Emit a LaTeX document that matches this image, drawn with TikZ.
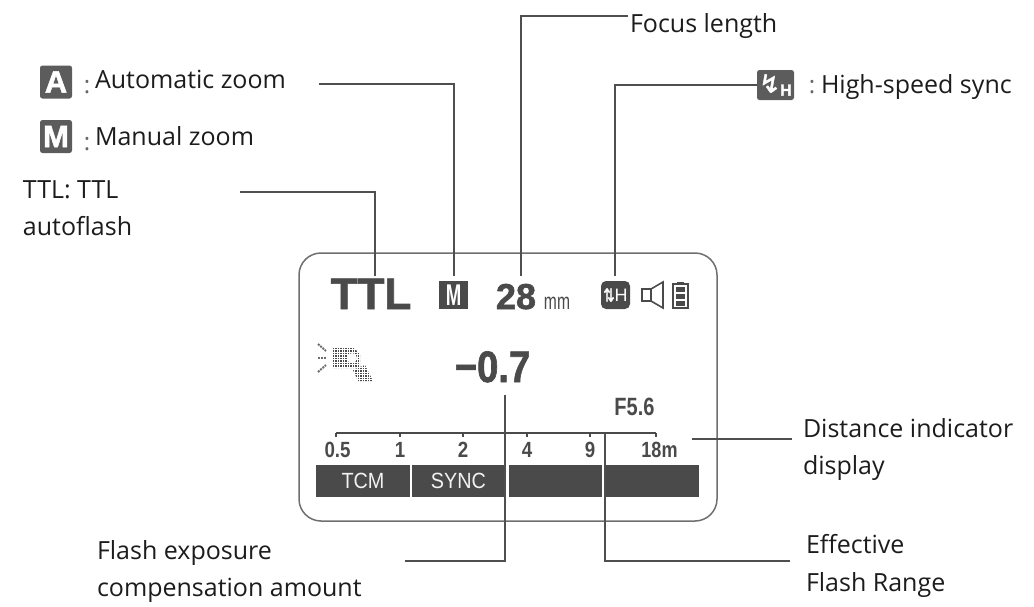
\documentclass[tikz,border=0pt]{standalone}
\usepackage{graphicx}
\usepackage{fontspec}
\setmainfont{Open Sans}
\newfontfamily\symfont{DejaVu Sans}
\newfontfamily\symheavy{DejaVu Sans}[FakeBold=2]
\newfontfamily\lcdfont{Liberation Sans}
\newfontfamily\lcdbold{Liberation Sans Bold}
\newfontfamily\lcdheavy{Liberation Sans Bold}[FakeBold=1.6]
\definecolor{lcd}{HTML}{4A4A4A}
\definecolor{leader}{HTML}{4F4F4F}
\definecolor{frameclr}{HTML}{6E6E6E}
\definecolor{labelclr}{HTML}{1C1C1C}
\newcommand{\narrow}[2]{\scalebox{#1}[1]{#2}}
\tikzset{
  lbl/.style={anchor=base west,inner sep=0pt,outer sep=0pt,text=labelclr,font=\fontsize{25}{28}\selectfont},
  colonmark/.style={anchor=base,inner sep=0pt,text=gray!80!black,font=\fontsize{24}{24}\selectfont},
  leaderline/.style={draw=leader,line width=1.6pt},
  keybox/.style={draw=none,fill=lcd!90!white,rounded corners=2.5pt,inner sep=0pt,text=white,font=\lcdheavy\fontsize{31}{31}\selectfont},
  lcdtext/.style={anchor=base,inner sep=0pt,text=lcd,font=\lcdbold\fontsize{22}{22}\selectfont},
  softkey/.style={fill=lcd,draw=none,inner sep=0pt,minimum height=32pt,text=white!90!gray,font=\lcdfont\fontsize{22}{22}\selectfont},
  tick/.style={draw=lcd,line width=1.6pt}
}
\begin{document}
\begin{tikzpicture}[x=1pt,y=-1pt]
\useasboundingbox (0,0) rectangle (1034,606);
% display frame
\node[draw=frameclr,line width=1.5pt,rounded corners=22pt,minimum width=418pt,minimum height=268pt,inner sep=0pt] (frame) at (508,387) {};
% labels
\node[lbl] (focus) at (630,32) {Focus length};
\node[lbl] (auto) at (95,88) {Automatic zoom};
\node[lbl] (manual) at (95,145) {Manual zoom};
\node[lbl] (hss) at (821,93) {High-speed sync};
\node[lbl] (ttl1) at (23,198) {TTL: TTL};
\node[lbl] (ttl2) at (23,235) {autoflash};
\node[lbl] (dist1) at (803,437) {Distance indicator};
\node[lbl] (dist2) at (803,474) {display};
\node[lbl] (fec1) at (97,559) {Flash exposure};
\node[lbl] (fec2) at (97,596) {compensation amount};
\node[lbl] (eff1) at (806,553) {Effective};
\node[lbl] (eff2) at (806,591) {Flash Range};
% legend icons
\node[keybox,minimum width=32pt,minimum height=33pt] (keyA) at (56,82) {A};
\node[keybox,minimum width=32pt,minimum height=33pt] (keyM) at (56,136.500) {M};
\node[keybox,minimum width=37pt,minimum height=30pt,font=\symheavy] (keyH) at (775.500,85) {\fontsize{25}{25}\selectfont\char"21AF\raisebox{-3pt}{\lcdheavy\fontsize{16}{16}\selectfont H}};
\node[colonmark] (c1) at (87,93.500) {:};
\node[colonmark] (c2) at (87,150) {:};
\node[colonmark] (c3) at (812,93) {:};
% display top row
\node[anchor=base,inner sep=0pt,text=lcd,font=\lcdheavy\fontsize{44}{44}\selectfont] (ttlr) at (371,309) {TTL};
\node[fill=lcd,minimum width=29pt,minimum height=28pt,inner sep=0pt,text=white,font=\lcdbold\fontsize{30}{30}\selectfont] (mbox) at (453.500,295) {\narrow{.62}{M}};
\node[anchor=base,inner sep=0pt,text=lcd,font=\lcdheavy\fontsize{36}{36}\selectfont] (len) at (516,309) {28};
\node[anchor=base,inner sep=0pt,text=lcd,font=\lcdfont\fontsize{23}{23}\selectfont] (mm) at (557,309) {\narrow{.68}{mm}};
\node[fill=lcd,rounded corners=5pt,minimum width=29pt,minimum height=28pt,inner sep=0pt,text=white,font=\symheavy\fontsize{18}{18}\selectfont] (hbox) at (615.500,295) {\narrow{.75}{\char"21C5}\lcdfont\fontsize{18}{18}\selectfont H};
% speaker
\draw[draw=lcd,line width=1.6pt,line join=miter] (642,289) rectangle (651,301);
\draw[draw=lcd,line width=1.6pt] (651,289) -- (663,282) -- (663,308) -- (651,301);
% battery
\draw[draw=lcd,line width=1.6pt] (673,284) rectangle (688,308);
\draw[draw=lcd,line width=2pt] (677,282.500) -- (684,282.500);
\foreach \yy in {287,294,301}{\fill[lcd] (676,\yy) rectangle (685,\yy+5);}
% flash icon
\fill[lcd] (332,348) -- (354,348) -- (360,354) -- (360,368) -- (332,368) -- cycle;
\fill[white] (352,358) circle (5);
\fill[lcd] (353,370) -- (365,365) -- (373,381) -- (358,381) -- cycle;
\foreach \xx in {332,334.500,...,373}{\draw[white,line width=.35pt] (\xx,346) -- (\xx,383);}
\foreach \yy in {347,349.500,...,383}{\draw[white,line width=.35pt] (330,\yy) -- (375,\yy);}
\draw[lcd!80!white,line width=2pt,dash pattern=on 2pt off 1pt] (318,344) -- (326,351);
\draw[lcd!80!white,line width=2pt,dash pattern=on 2pt off 1pt] (318,358) -- (326,358);
\draw[lcd!80!white,line width=2pt,dash pattern=on 2pt off 1pt] (318,372) -- (326,365);
% value
\node[anchor=base,inner sep=0pt,text=lcd,font=\lcdheavy\fontsize{44}{44}\selectfont] (val) at (492.500,382) {\narrow{.87}{−0.7}};
\node[lcdtext,font=\lcdbold\fontsize{25}{25}\selectfont] (fnum) at (634.500,415) {\narrow{.8}{F5.6}};
% scale
\coordinate (s0) at (336,433); \coordinate (s1) at (400,433); \coordinate (s2) at (463,433);
\coordinate (s3) at (527,433); \coordinate (s4) at (590,433); \coordinate (s5) at (656,433);
\draw[tick] (s0) -- (s5);
\foreach \t in {s0,s1,s2,s3,s4,s5}{\draw[tick] (\t) -- ++(0,4);}
\node[lcdtext] (t0) at (337.500,457) {\narrow{.85}{0.5}};
\node[lcdtext] (t1) at (400,457) {\narrow{.85}{1}};
\node[lcdtext] (t2) at (463,457) {\narrow{.85}{2}};
\node[lcdtext] (t3) at (527,457) {\narrow{.85}{4}};
\node[lcdtext] (t4) at (590,457) {\narrow{.85}{9}};
\node[lcdtext] (t5) at (659.500,457) {\narrow{.82}{18m}};
% soft keys
\node[softkey,minimum width=94pt] (k1) at (363,481) {\narrow{.9}{TCM}};
\node[softkey,minimum width=93pt] (k2) at (458.500,481) {\narrow{.9}{SYNC}};
\node[softkey,minimum width=93pt] (k3) at (555.500,481) {};
\node[softkey,minimum width=94pt] (k4) at (652,481) {};
% connectors
\coordinate (eFocus) at (628,16); \coordinate (pFocus) at (521,276);
\coordinate (eAuto) at (319,84); \coordinate (pAuto) at (454,276);
\coordinate (eTTL) at (240,192); \coordinate (pTTL) at (375,276);
\coordinate (eHss) at (757,85); \coordinate (pHss) at (615,276);
\coordinate (eFec) at (405,561); \coordinate (pFec) at (505,395);
\coordinate (eEff) at (790,561); \coordinate (pEff) at (605,433);
\coordinate (eDist) at (792,439); \coordinate (pDist) at (692,439);
\draw[leaderline] (eFocus) -| (pFocus);
\draw[leaderline] (eAuto) -| (pAuto);
\draw[leaderline] (eTTL) -| (pTTL);
\draw[leaderline] (eHss) -| (pHss);
\draw[leaderline] (eFec) -| (pFec);
\draw[leaderline] (eEff) -| (pEff);
\draw[leaderline] (eDist) -- (pDist);
\end{tikzpicture}
\end{document}
